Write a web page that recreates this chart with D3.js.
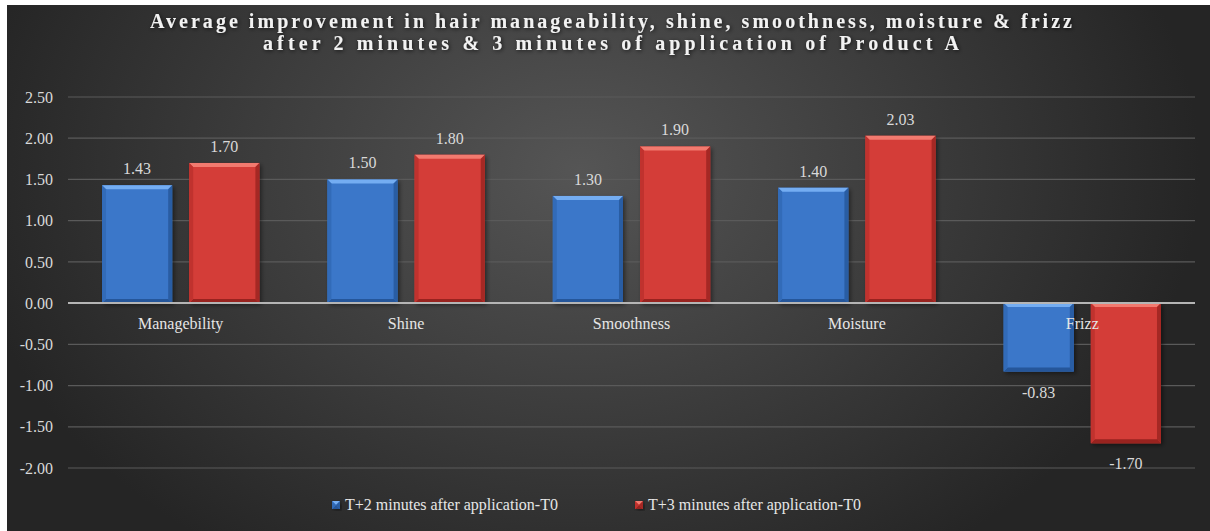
<!DOCTYPE html>
<html>
<head>
<meta charset="utf-8">
<script src="https://cdn.jsdelivr.net/npm/d3@7"></script>
<style>
  body { margin: 0; background: #fff; }
  svg { display: block; }
  text { font-family: "Liberation Serif", "Times New Roman", serif; }
</style>
</head>
<body>
<div id="chart"></div>
<script>
// data
var categories = ["Managebility", "Shine", "Smoothness", "Moisture", "Frizz"];
var seriesNames = ["T+2 minutes after application-T0", "T+3 minutes after application-T0"];
var t2Values = [1.43, 1.50, 1.30, 1.40, -0.83];
var t3Values = [1.70, 1.80, 1.90, 2.03, -1.70];
var yTicks = [2.5, 2.0, 1.5, 1.0, 0.5, 0.0, -0.5, -1.0, -1.5, -2.0];
var titleLines = [
  "Average improvement in hair manageability, shine, smoothness, moisture & frizz",
  "after 2 minutes & 3 minutes of application of Product A"
];

var W = 1210, H = 531;
var margin = {top: 97, right: 15, bottom: 63, left: 68};

// excel style numbers, plain hyphen for minus
var fmt = function(v) { return d3.format(".2f")(v).replace("\u2212", "-"); };

var svg = d3.select("#chart").append("svg")
    .attr("width", W)
    .attr("height", H);

var defs = svg.append("defs");

// dark background, lighter toward the top middle
var bg = defs.append("radialGradient")
    .attr("id", "bgGrad")
    .attr("gradientUnits", "userSpaceOnUse")
    .attr("cx", 580).attr("cy", 170).attr("r", 620)
    .attr("gradientTransform", "translate(580,170) scale(1,0.75) translate(-580,-170)");
bg.append("stop").attr("offset", "0%").attr("stop-color", "#555555");
bg.append("stop").attr("offset", "55%").attr("stop-color", "#3b3b3b");
bg.append("stop").attr("offset", "100%").attr("stop-color", "#252525");

var glow = defs.append("filter").attr("id", "glow")
    .attr("x", "-5%").attr("y", "-30%").attr("width", "110%").attr("height", "160%");
glow.append("feGaussianBlur").attr("in", "SourceAlpha").attr("stdDeviation", 2).attr("result", "b");
glow.append("feOffset").attr("in", "b").attr("dx", 1).attr("dy", 1).attr("result", "o");
glow.append("feFlood").attr("flood-color", "#000").attr("flood-opacity", 0.7);
glow.append("feComposite").attr("in2", "o").attr("operator", "in");
var gm = glow.append("feMerge");
gm.append("feMergeNode");
gm.append("feMergeNode").attr("in", "SourceGraphic");

var shadow = defs.append("filter").attr("id", "barShadow")
    .attr("x", "-10%").attr("y", "-10%").attr("width", "125%").attr("height", "125%");
shadow.append("feDropShadow").attr("dx", 2).attr("dy", 2).attr("stdDeviation", 2)
    .attr("flood-color", "#000").attr("flood-opacity", 0.45);

svg.append("rect")
    .attr("x", 7).attr("y", 5)
    .attr("width", W - 7).attr("height", H - 5)
    .attr("fill", "url(#bgGrad)");

// title
var title = svg.append("g").attr("filter", "url(#glow)");
title.selectAll("text")
    .data(titleLines)
  .enter().append("text")
    .attr("x", 611)
    .attr("y", function(d, i) { return 28 + i * 22; })
    .attr("text-anchor", "middle")
    .attr("font-size", 20)
    .attr("font-weight", "bold")
    .attr("fill", "#f2f2f2")
    .attr("textLength", function(d, i) { return i == 0 ? 922 : 696; })
    .attr("lengthAdjust", "spacing")
    .text(function(d) { return d; });

// scales
var x = d3.scaleBand()
    .domain(categories)
    .range([margin.left, W - margin.right]);

var xs = d3.scaleBand()
    .domain([0, 1])
    .range([0, x.bandwidth()])
    .paddingInner(0.195)
    .paddingOuter(0.39);

var y = d3.scaleLinear()
    .domain([-2, 2.5])
    .range([H - margin.bottom, margin.top]);

// gridlines
svg.append("g")
    .selectAll("line")
    .data(yTicks.filter(function(d) { return d != 0; }))
  .enter().append("line")
    .attr("x1", margin.left).attr("x2", W - margin.right)
    .attr("y1", function(d) { return y(d); })
    .attr("y2", function(d) { return y(d); })
    .attr("stroke", "#5a5a5a")
    .attr("stroke-width", 1.2);

// y axis labels
var yAxis = d3.axisLeft(y)
    .tickValues(yTicks)
    .tickFormat(fmt)
    .tickSize(0)
    .tickPadding(15);

var yg = svg.append("g")
    .attr("transform", "translate(" + margin.left + ",0)")
    .call(yAxis);
yg.select(".domain").remove();
yg.selectAll("text")
    .attr("font-family", "Liberation Serif")
    .attr("font-size", 16)
    .attr("fill", "#d9d9d9");

var series = [
  {name: seriesNames[0], values: t2Values,
   base: "#3a77c9", light: "#74adf2", dark: "#25569a", side: "#326bb8"},
  {name: seriesNames[1], values: t3Values,
   base: "#d43c37", light: "#f27a6f", dark: "#98231f", side: "#c0322e"}
];

// bevelled bar
function drawBar(g, bx, by, bw, bh, s) {
  var b = 4;
  if (bh < 2 * b) b = bh / 2;
  var inner = [bx + b, by + b, bx + bw - b, by + bh - b];
  g.append("rect")
      .attr("x", bx).attr("y", by).attr("width", bw).attr("height", bh)
      .attr("fill", s.base)
      .attr("filter", "url(#barShadow)");
  // top
  g.append("polygon")
      .attr("points", [[bx, by], [bx + bw, by], [inner[2], inner[1]], [inner[0], inner[1]]].join(" "))
      .attr("fill", s.light);
  // bottom
  g.append("polygon")
      .attr("points", [[bx, by + bh], [bx + bw, by + bh], [inner[2], inner[3]], [inner[0], inner[3]]].join(" "))
      .attr("fill", s.dark);
  // left
  g.append("polygon")
      .attr("points", [[bx, by], [inner[0], inner[1]], [inner[0], inner[3]], [bx, by + bh]].join(" "))
      .attr("fill", s.side);
  // right
  g.append("polygon")
      .attr("points", [[bx + bw, by], [inner[2], inner[1]], [inner[2], inner[3]], [bx + bw, by + bh]].join(" "))
      .attr("fill", s.dark)
      .attr("opacity", 0.8);
}

var barsG = svg.append("g");
series.forEach(function(s, si) {
  s.values.forEach(function(v, ci) {
    var bx = x(categories[ci]) + xs(si);
    var top = y(Math.max(v, 0));
    var bh = Math.abs(y(v) - y(0));
    drawBar(barsG, bx, top, xs.bandwidth(), bh, s);
  });
});

// zero line
svg.append("line")
    .attr("x1", margin.left).attr("x2", W - margin.right)
    .attr("y1", y(0)).attr("y2", y(0))
    .attr("stroke", "#b5b5b5")
    .attr("stroke-width", 2);

// category labels
svg.append("g")
    .selectAll("text")
    .data(categories)
  .enter().append("text")
    .attr("x", function(d) { return x(d) + x.bandwidth() / 2; })
    .attr("y", y(0) + 26)
    .attr("text-anchor", "middle")
    .attr("font-size", 16)
    .attr("fill", "#e6e6e6")
    .text(function(d) { return d; });

// value labels
series.forEach(function(s, si) {
  svg.append("g")
      .selectAll("text")
      .data(s.values)
    .enter().append("text")
      .attr("x", function(d, i) { return x(categories[i]) + xs(si) + xs.bandwidth() / 2; })
      .attr("y", function(d) { return d >= 0 ? y(d) - 11 : y(d) + 26; })
      .attr("text-anchor", "middle")
      .attr("font-size", 16)
      .attr("fill", "#d9d9d9")
      .text(fmt);
});

// legend
var legendX = [332, 635];
var legend = svg.append("g");
series.forEach(function(s, si) {
  var lg = legend.append("g").attr("transform", "translate(" + legendX[si] + ",501)");
  drawBar(lg, 0, 0, 8, 8, s);
  lg.append("text")
      .attr("x", 13).attr("y", 9)
      .attr("font-size", 16)
      .attr("fill", "#e6e6e6")
      .text(s.name);
});
</script>
</body>
</html>
